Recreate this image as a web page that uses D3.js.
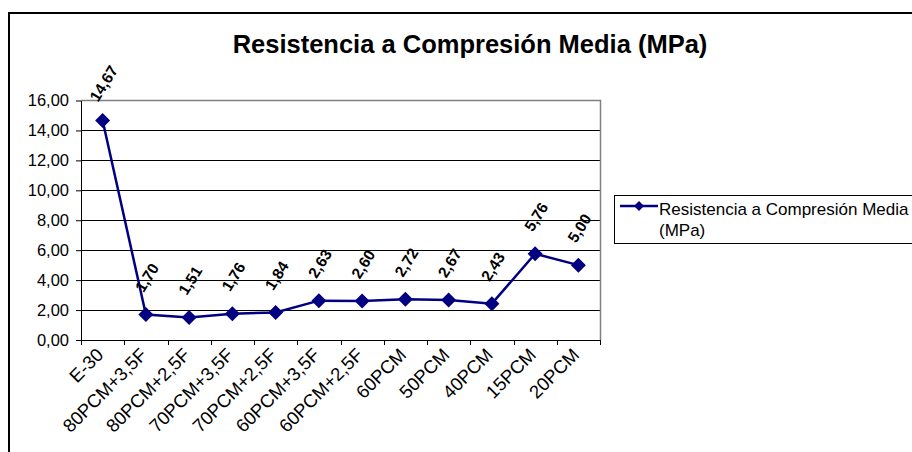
<!DOCTYPE html>
<html><head><meta charset="utf-8">
<script src="https://cdn.jsdelivr.net/npm/d3@7"></script>
<style>body{margin:0;background:#fff}svg{display:block;font-family:"Liberation Sans",Arial,sans-serif}</style>
</head><body>
<svg id="c" width="912" height="452"></svg>
<script>
const categories = ["E-30","80PCM+3,5F","80PCM+2,5F","70PCM+3,5F","70PCM+2,5F","60PCM+3,5F","60PCM+2,5F","60PCM","50PCM","40PCM","15PCM","20PCM"];
const values = [14.67,1.70,1.51,1.76,1.84,2.63,2.60,2.72,2.67,2.43,5.76,5.00];
const yTicks = [0,2,4,6,8,10,12,14,16];
const title = "Resistencia a Compresión Media (MPa)";
const seriesName = ["Resistencia a Compresión Media","(MPa)"];

const svg = d3.select("#c");
const L=81, R=600, T=100.5, B=340;
const color="#000080";
const fmt = v => d3.format(".2f")(v).replace(".", ",");

svg.append("rect").attr("x",9).attr("y",13).attr("width",1000).attr("height",1000)
  .attr("fill","#fff").attr("stroke","#000").attr("stroke-width",2);

const x = d3.scaleBand().domain(categories).range([L,R]);
const y = d3.scaleLinear().domain([0,16]).range([B,T]);

svg.append("text").attr("x",470).attr("y",53).attr("text-anchor","middle")
  .attr("font-size",25.5).attr("font-weight","bold").text(title);

// gridlines
svg.append("g").selectAll("line").data(yTicks.filter(d=>d>0&&d<16)).join("line")
  .attr("x1",L).attr("x2",R).attr("y1",d=>Math.round(y(d))+0.5).attr("y2",d=>Math.round(y(d))+0.5)
  .attr("stroke","#000").attr("stroke-width",1);
// plot border
svg.append("path").attr("d",`M${L},${T}H${R+0.5}V${B}`).attr("fill","none").attr("stroke","#808080").attr("stroke-width",1.5);

// y axis
const ya = svg.append("g").attr("transform",`translate(${L},0)`)
  .call(d3.axisLeft(y).tickValues(yTicks).tickFormat(fmt).tickSize(5).tickSizeOuter(0));
ya.select(".domain").attr("stroke","#000");
ya.selectAll("text").attr("font-size",16.5).attr("font-family","Liberation Sans, Arial, sans-serif").attr("fill","#000").attr("x",-12);

// x axis
const xa = svg.append("g").attr("transform",`translate(0,${B})`)
  .call(d3.axisBottom(x).tickSize(0).tickSizeOuter(0));
xa.select(".domain").attr("stroke","#000");
xa.selectAll(".tick line").remove();
xa.selectAll("text").attr("font-size",18.5).attr("font-family","Liberation Sans, Arial, sans-serif").attr("fill","#000")
  .attr("text-anchor","end").attr("dy",null).attr("y",0)
  .attr("transform",`translate(2,16) rotate(-45)`);
// x boundary ticks
const bounds = categories.map(c=>x(c)).concat([R]);
svg.append("g").selectAll("line").data(bounds).join("line")
  .attr("x1",d=>Math.round(d)+0.5).attr("x2",d=>Math.round(d)+0.5).attr("y1",B).attr("y2",B+5)
  .attr("stroke","#000");

// line
const cx = (c)=>x(c)+x.bandwidth()/2;
svg.append("path").datum(values).attr("fill","none").attr("stroke",color).attr("stroke-width",2.5)
  .attr("d",d3.line().x((d,i)=>cx(categories[i])).y(d=>y(d)));
const diamond = (s)=>`M0,${-s}L${s},0L0,${s}L${-s},0Z`;
svg.append("g").selectAll("path").data(values).join("path")
  .attr("d",diamond(7.5)).attr("fill",color)
  .attr("transform",(d,i)=>`translate(${cx(categories[i])},${y(d)})`);
// data labels
svg.append("g").selectAll("text").data(values).join("text")
  .attr("font-size",15.5).attr("font-weight","bold").attr("text-anchor","middle").attr("dominant-baseline","central")
  .attr("transform",(d,i)=>`translate(${cx(categories[i])+1},${y(d)-37}) rotate(-58)`)
  .text(fmt);

// legend
const lg = svg.append("g");
lg.append("rect").attr("x",614.5).attr("y",195.5).attr("width",400).attr("height",48).attr("fill","#fff").attr("stroke","#000");
lg.append("line").attr("x1",620).attr("x2",658).attr("y1",206).attr("y2",206).attr("stroke",color).attr("stroke-width",2.5);
lg.append("path").attr("d",diamond(5)).attr("fill",color).attr("transform","translate(639,206)");
lg.selectAll("text").data(seriesName).join("text").attr("x",659).attr("y",(d,i)=>215+i*21)
  .attr("font-size",17).text(d=>d);
</script>
</body></html>
